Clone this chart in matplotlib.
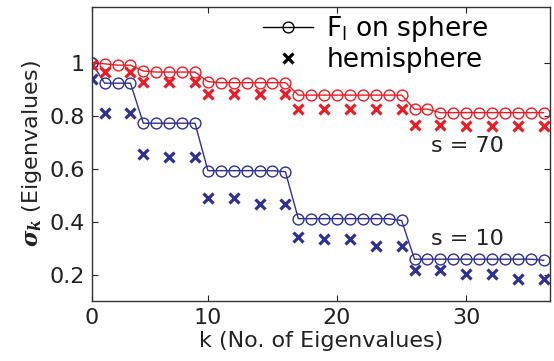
import numpy as np
import matplotlib
matplotlib.use("Agg")
import matplotlib.pyplot as plt

plt.rcParams['font.family'] = ['DejaVu Sans']
plt.rcParams['mathtext.fontset'] = 'custom'
plt.rcParams['mathtext.it'] = 'DejaVu Serif:italic:bold'
plt.rcParams['mathtext.rm'] = 'DejaVu Sans'

# eigenvalue index, k = 1..36
k = np.arange(1, 37)

# s = 70, F_l on sphere
sphere70 = [1.00, 0.995, 0.99, 0.99,
            0.968, 0.964, 0.964, 0.964, 0.964,
            0.928, 0.924, 0.924, 0.924, 0.924, 0.924, 0.924,
            0.877, 0.877, 0.877, 0.877, 0.877, 0.877, 0.877, 0.877, 0.877,
            0.824, 0.824, 0.811, 0.811, 0.811, 0.811, 0.811, 0.811, 0.811, 0.811, 0.811]
# s = 10, F_l on sphere
sphere10 = [1.00, 0.922, 0.922, 0.922,
            0.771, 0.771, 0.771, 0.771, 0.771,
            0.592, 0.592, 0.592, 0.592, 0.592, 0.592, 0.588,
            0.411, 0.411, 0.411, 0.411, 0.411, 0.411, 0.411, 0.411, 0.404,
            0.258, 0.258, 0.258, 0.258, 0.258, 0.258, 0.258, 0.258, 0.258, 0.258, 0.254]

# hemisphere eigenvalues (every other index inside each group)
k_hemi = [1, 2, 4, 5, 7, 9, 10, 12, 14, 16, 17, 19, 21, 23, 25, 26, 28, 30, 32, 34, 36]
hemi70 = [0.99, 0.964, 0.964, 0.927, 0.927, 0.927, 0.880, 0.880, 0.880, 0.880,
          0.826, 0.826, 0.826, 0.826, 0.826, 0.765, 0.764, 0.762, 0.762, 0.759, 0.759]
hemi10 = [0.937, 0.808, 0.808, 0.655, 0.645, 0.645, 0.489, 0.489, 0.467, 0.467,
          0.342, 0.333, 0.333, 0.308, 0.308, 0.217, 0.217, 0.204, 0.204, 0.182, 0.182]

red = '#ed1c24'
blue = '#2e3192'

fig = plt.figure(figsize=(5.54, 3.61), dpi=100)
ax = fig.add_axes([0.1655, 0.166, 0.8275, 0.815])

ax.plot(k, sphere70, '-o', color=red, lw=1.0, ms=7.8, mfc='none', mew=1.0)
ax.plot(k, sphere10, '-o', color=blue, lw=1.0, ms=7.8, mfc='none', mew=1.0)
ax.plot(k_hemi, hemi70, 'x', color=red, ms=7.5, mew=2.3, ls='none')
ax.plot(k_hemi, hemi10, 'x', color=blue, ms=7.5, mew=2.3, ls='none')

# legend entries in black
h1, = ax.plot([], [], '-o', color='k', lw=1.0, ms=7.8, mfc='none', mew=1.0)
h2, = ax.plot([], [], 'x', color='k', ms=7.5, mew=2.3, ls='none')
ax.legend([h1, h2], [r'F$_\mathrm{l}$ on sphere', 'hemisphere'],
          loc='upper left', bbox_to_anchor=(0.374, 0.975), frameon=False,
          fontsize=19, handlelength=1.9, handletextpad=0.5,
          labelspacing=0.12, borderpad=0, borderaxespad=0)

ax.text(27.3, 0.686, 's = 70', fontsize=16, ha='left', va='center', color='#222222')
ax.text(27.3, 0.336, 's = 10', fontsize=16, ha='left', va='center', color='#222222')

ax.set_xlim(1, 36.5)
ax.set_ylim(0.1, 1.21)
ax.set_xticks([1, 10, 20, 30], labels=['0', '10', '20', '30'])
ax.set_yticks([0.2, 0.4, 0.6, 0.8, 1.0], labels=['0.2', '0.4', '0.6', '0.8', '1'])
ax.tick_params(direction='in', top=True, right=True, labelsize=16,
               length=4, width=0.8, colors='#222222', pad=5)
for sp in ax.spines.values():
    sp.set_linewidth(1.0)
    sp.set_color('#333333')

ax.set_xlabel('k (No. of Eigenvalues)', fontsize=16, color='#222222', labelpad=2)
ax.set_ylabel(r'$\sigma_k$ (Eigenvalues)', fontsize=16, color='#222222', labelpad=4)

fig.savefig('out.png', dpi=100)
